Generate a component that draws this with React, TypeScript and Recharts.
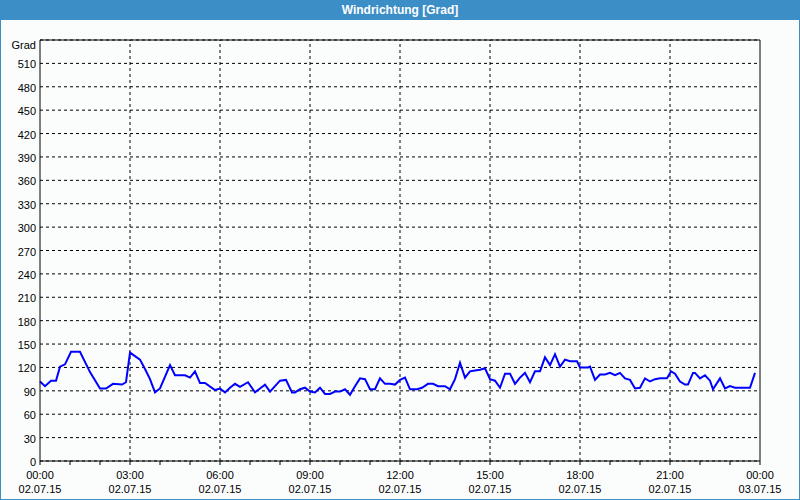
import React from 'react';
import { LineChart, Line, XAxis, YAxis, CartesianGrid, ReferenceLine } from 'recharts';

// minutes since 00:00 on 02.07.15
const minutes = [
  0, 10, 22, 32, 40, 50, 62, 80, 100, 120, 132, 146, 164, 172, 180, 200, 210, 220, 230, 240,
  260, 270, 290, 300, 310, 320, 330, 350, 360, 370, 380, 390, 400, 416, 430, 440, 450, 460, 480, 492,
  504, 510, 520, 530, 540, 550, 560, 570, 580, 590, 600, 610, 620, 630, 640, 650, 660, 670, 680, 690,
  700, 710, 720, 730, 740, 754, 764, 776, 786, 796, 810, 820, 830, 840, 850, 860, 870, 880, 890, 900,
  910, 920, 930, 940, 950, 960, 970, 980, 990, 1000, 1010, 1020, 1030, 1040, 1050, 1060, 1074, 1080, 1096, 1100,
  1110, 1120, 1130, 1140, 1150, 1160, 1170, 1180, 1190, 1200, 1210, 1220, 1230, 1240, 1254, 1262, 1270, 1280, 1290, 1296,
  1306, 1310, 1320, 1330, 1340, 1346, 1360, 1370, 1380, 1390, 1420, 1430,
];

// wind direction in degrees
const direction = [
  102, 96, 103, 103, 121, 124, 140, 140, 114, 93, 93, 99, 98, 101, 139, 130, 118, 105, 88, 93,
  123, 110, 110, 107, 115, 100, 100, 91, 93, 88, 94, 99, 95, 101, 88, 93, 98, 89, 103, 104,
  88, 88, 92, 94, 89, 88, 94, 86, 86, 89, 89, 92, 85, 96, 106, 105, 92, 92, 106, 99,
  99, 98, 104, 107, 92, 92, 94, 99, 99, 96, 96, 92, 105, 126, 107, 115, 116, 117, 119, 105,
  103, 94, 112, 112, 99, 107, 113, 101, 115, 115, 133, 123, 137, 121, 130, 128, 128, 120, 120, 121,
  104, 111, 111, 113, 110, 113, 106, 104, 93, 94, 106, 102, 105, 106, 106, 115, 112, 102, 98, 98,
  113, 113, 106, 110, 103, 92, 106, 93, 96, 94, 94, 113,
];

const data = minutes.map((t, i) => ({ t, deg: direction[i] }));

const xTicks = [0, 60, 120, 180, 240, 300, 360, 420, 480, 540, 600, 660, 720, 780, 840, 900, 960, 1020, 1080, 1140, 1200, 1260, 1320, 1380, 1440];
const majorTicks = [0, 180, 360, 540, 720, 900, 1080, 1260, 1440];
const timeLabels = ['00:00', '03:00', '06:00', '09:00', '12:00', '15:00', '18:00', '21:00', '00:00'];
const dateLabels = ['02.07.15', '02.07.15', '02.07.15', '02.07.15', '02.07.15', '02.07.15', '02.07.15', '02.07.15', '03.07.15'];

const degTicks = [0, 30, 60, 90, 120, 150, 180, 210, 240, 270, 300, 330, 360, 390, 420, 450, 480, 510, 540];
const compassTicks = [0, 45, 90, 135, 180, 225, 270, 315, 360, 405, 450, 495, 540];
const compassLabels = ['N', 'NE', 'E', 'SE', 'S', 'SW', 'W', 'NW', 'N', 'NE', 'E', 'SE', 'S'];

const FONT = '"Liberation Sans", Arial, sans-serif';
const BLUE = '#3c8ec6';

const TimeTick = (props: any) => {
  const { x, y, payload } = props;
  const idx = majorTicks.indexOf(payload.value);
  if (idx < 0) return null;
  return (
    <g>
      <text x={x} y={y} dy={12} textAnchor="middle" fontSize={11} fontFamily={FONT} fill="#000">
        {timeLabels[idx]}
      </text>
      <text x={x} y={y} dy={26} textAnchor="middle" fontSize={11} fontFamily={FONT} fill="#000">
        {dateLabels[idx]}
      </text>
    </g>
  );
};

const DegTick = (props: any) => {
  const { x, y, payload } = props;
  const top = payload.value === 540;
  return (
    <text x={x} y={y} dy={top ? 9 : 5} textAnchor="end" fontSize={11} fontFamily={FONT} fill="#000">
      {top ? 'Grad' : payload.value}
    </text>
  );
};

const CompassTick = (props: any) => {
  const { x, y, payload } = props;
  const idx = compassTicks.indexOf(payload.value);
  return (
    <text x={x} y={y} dy={5} textAnchor="start" fontSize={11} fontFamily={FONT} fill="#000">
      {compassLabels[idx]}
    </text>
  );
};

export default function App() {
  return (
    <div style={{ position: 'absolute', left: 0, top: 0, width: 800, height: 500, background: '#fbfdfd', overflow: 'hidden' }}>
      <div
        style={{
          position: 'absolute', left: 0, top: 0, width: 800, height: 20, background: BLUE,
          color: '#fff', fontFamily: FONT, fontWeight: 'bold', fontSize: 12, lineHeight: '20px', textAlign: 'center',
        }}
      >
        Windrichtung [Grad]
      </div>
      <div style={{ position: 'absolute', left: 0, top: 20 }}>
        <LineChart width={800} height={480} data={data} margin={{ top: 20, right: 0, bottom: 0, left: 0 }}>
          <CartesianGrid yAxisId="left" vertical={false} stroke="#000" strokeDasharray="3 3" />
          <XAxis
            dataKey="t"
            type="number"
            domain={[0, 1440]}
            ticks={xTicks}
            interval={0}
            height={39}
            tickSize={4}
            tickMargin={2}
            axisLine={{ stroke: '#000' }}
            tickLine={{ stroke: '#000' }}
            tick={<TimeTick />}
          />
          <YAxis
            yAxisId="left"
            domain={[0, 540]}
            ticks={degTicks}
            interval={0}
            width={40}
            tickSize={0}
            tickMargin={4}
            axisLine={{ stroke: '#000' }}
            tickLine={false}
            tick={<DegTick />}
          />
          <YAxis
            yAxisId="right"
            orientation="right"
            domain={[0, 540]}
            ticks={compassTicks}
            interval={0}
            width={40}
            tickSize={3}
            tickMargin={1}
            axisLine={{ stroke: '#000' }}
            tickLine={{ stroke: '#000' }}
            tick={<CompassTick />}
          />
          {majorTicks.slice(1, -1).map((t) => (
            <ReferenceLine key={t} yAxisId="left" x={t} stroke="#000" strokeDasharray="3 3" />
          ))}
          <ReferenceLine yAxisId="left" y={540} stroke="#000" />
          <Line
            yAxisId="left"
            type="linear"
            dataKey="deg"
            stroke="#0000ff"
            strokeWidth={2}
            dot={false}
            isAnimationActive={false}
          />
        </LineChart>
      </div>
      <div
        style={{
          position: 'absolute', left: 0, top: 0, width: 800, height: 500, boxSizing: 'border-box',
          border: `1px solid ${BLUE}`, pointerEvents: 'none',
        }}
      />
    </div>
  );
}
